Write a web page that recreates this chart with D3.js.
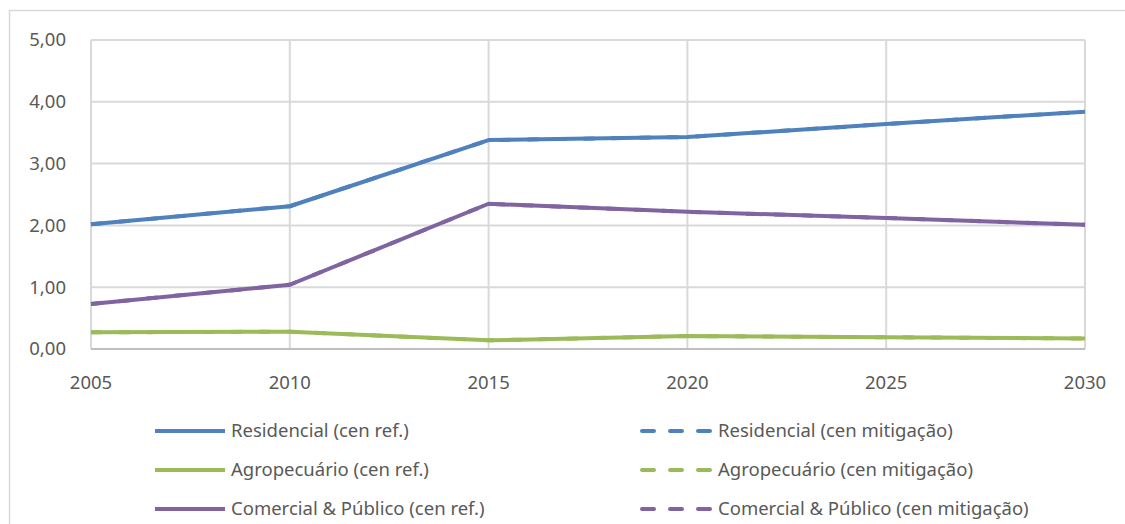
<!DOCTYPE html>
<html>
<head>
<meta charset="utf-8">
<script src="https://cdn.jsdelivr.net/npm/d3@7/dist/d3.min.js"></script>
<style>
  body { margin: 0; background: #fff; }
  text { font-family: "Noto Sans", sans-serif; fill: #595959; }
</style>
</head>
<body>
<svg id="chart" width="1125" height="524"></svg>
<script>
// Chart data
const years = [2005, 2010, 2015, 2020, 2025, 2030];
const yTicks = [0, 1, 2, 3, 4, 5];
const residencialRef = [2.02, 2.31, 3.38, 3.43, 3.64, 3.84];
const agroRef = [0.27, 0.28, 0.14, 0.21, 0.19, 0.17];
const comercialRef = [0.73, 1.04, 2.35, 2.22, 2.12, 2.01];
// mitigation scenarios sit under the reference lines
const residencialMit = [2.02, 2.31, 3.38, 3.43, 3.64, 3.84];
const agroMit = [0.27, 0.28, 0.14, 0.21, 0.19, 0.17];
const comercialMit = [0.73, 1.04, 2.35, 2.22, 2.12, 2.01];

const series = [
  { name: "Residencial (cen ref.)", values: residencialRef, color: "#4f81bd", dashed: false },
  { name: "Residencial (cen mitigação)", values: residencialMit, color: "#4f81bd", dashed: true },
  { name: "Agropecuário (cen ref.)", values: agroRef, color: "#9bbb59", dashed: false },
  { name: "Agropecuário (cen mitigação)", values: agroMit, color: "#9bbb59", dashed: true },
  { name: "Comercial & Público (cen ref.)", values: comercialRef, color: "#8064a2", dashed: false },
  { name: "Comercial & Público (cen mitigação)", values: comercialMit, color: "#8064a2", dashed: true }
];

const svg = d3.select("#chart");

// outer frame
svg.append("rect")
  .attr("x", 9.5).attr("y", 10.5)
  .attr("width", 1140).attr("height", 540)
  .attr("fill", "none").attr("stroke", "#d9d9d9").attr("stroke-width", 1.5);

const x = d3.scaleLinear().domain([2005, 2030]).range([91, 1085]);
const y = d3.scaleLinear().domain([0, 5]).range([349, 40]);

// gridlines
svg.append("g")
  .selectAll("line.h")
  .data(yTicks.slice(1))
  .enter()
  .append("line")
  .attr("x1", x(2005)).attr("x2", x(2030))
  .attr("y1", (d) => y(d)).attr("y2", (d) => y(d))
  .attr("stroke", "#d9d9d9").attr("stroke-width", 2);

svg.append("g")
  .selectAll("line.v")
  .data(years)
  .enter()
  .append("line")
  .attr("x1", (d) => x(d)).attr("x2", (d) => x(d))
  .attr("y1", y(5)).attr("y2", y(0))
  .attr("stroke", "#d9d9d9").attr("stroke-width", 2);

// bottom axis line
svg.append("line")
  .attr("x1", x(2005)).attr("x2", x(2030))
  .attr("y1", y(0)).attr("y2", y(0))
  .attr("stroke", "#bfbfbf").attr("stroke-width", 2);

// tick labels
const fmt = (d) => d3.format(".2f")(d).replace(".", ",");
svg.append("g")
  .selectAll("text")
  .data(yTicks)
  .enter()
  .append("text")
  .attr("x", 66).attr("y", (d) => y(d))
  .attr("dy", "0.35em")
  .attr("text-anchor", "end")
  .style("font-size", "18.5px")
  .text(fmt);

svg.append("g")
  .selectAll("text")
  .data(years)
  .enter()
  .append("text")
  .attr("x", (d) => x(d)).attr("y", 383)
  .attr("dy", "0.35em")
  .attr("text-anchor", "middle")
  .style("font-size", "18.5px")
  .text((d) => d);

// lines: dashed first, reference on top
const line = d3.line()
  .x((d, i) => x(years[i]))
  .y((d) => y(d));

const order = series.filter((s) => s.dashed).concat(series.filter((s) => !s.dashed));
svg.append("g")
  .selectAll("path")
  .data(order)
  .enter()
  .append("path")
  .attr("d", (d) => line(d.values))
  .attr("fill", "none")
  .attr("stroke", (d) => d.color)
  .attr("stroke-width", 4)
  .attr("stroke-linejoin", "round")
  .attr("stroke-dasharray", (d) => (d.dashed ? "11,17" : null));

// legend
const legend = svg.append("g");
series.forEach((s, i) => {
  const col = i % 2;
  const row = Math.floor(i / 2);
  const ly = 431 + row * 39;
  if (s.dashed) {
    legend.append("line")
      .attr("x1", 642).attr("x2", 710)
      .attr("y1", ly).attr("y2", ly)
      .attr("stroke", s.color).attr("stroke-width", 4)
      .attr("stroke-linecap", "round")
      .attr("stroke-dasharray", "12,16");
  } else {
    legend.append("line")
      .attr("x1", 155).attr("x2", 225)
      .attr("y1", ly).attr("y2", ly)
      .attr("stroke", s.color).attr("stroke-width", 4);
  }
  legend.append("text")
    .attr("x", col === 0 ? 231 : 718).attr("y", ly)
    .attr("dy", "0.35em")
    .style("font-size", "18.5px")
    .text(s.name);
});
</script>
</body>
</html>
